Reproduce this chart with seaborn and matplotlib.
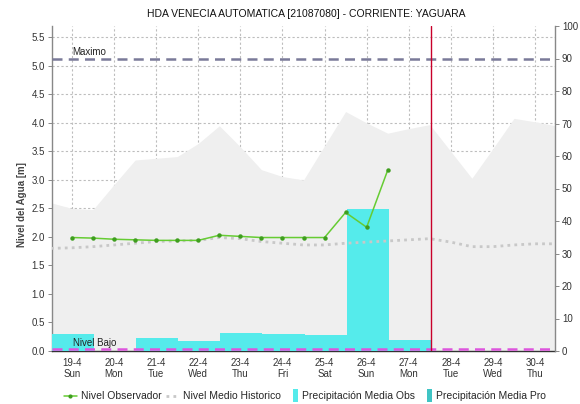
import numpy as np
import pandas as pd
import matplotlib
matplotlib.use("Agg")
import matplotlib.pyplot as plt
from matplotlib.lines import Line2D
from matplotlib.patches import Rectangle
from matplotlib.legend_handler import HandlerPatch
import seaborn as sns

# ---- data -------------------------------------------------------------
day_labels = ["19-4", "20-4", "21-4", "22-4", "23-4", "24-4",
              "25-4", "26-4", "27-4", "28-4", "29-4", "30-4"]
weekdays = ["Sun", "Mon", "Tue", "Wed", "Thu", "Fri",
            "Sat", "Sun", "Mon", "Tue", "Wed", "Thu"]

# observed water level (m), every 12 h from 19-4
obs_time = [0.0, 0.5, 1.0, 1.5, 2.0, 2.5, 3.0, 3.5,
            4.0, 4.5, 5.0, 5.5, 6.0, 6.5, 7.0, 7.5]
obs_level = [1.99, 1.98, 1.96, 1.95, 1.94, 1.94, 1.94, 2.03,
             2.01, 1.99, 1.99, 1.99, 1.99, 2.43, 2.17, 3.17]

# historic mean / maximum envelope (m), every 12 h
hist_time = [-0.5, 0.0, 0.5, 1.0, 1.5, 2.0, 2.5, 3.0, 3.5, 4.0, 4.5, 5.0,
             5.5, 6.0, 6.5, 7.0, 7.5, 8.0, 8.5, 9.0, 9.5, 10.0, 10.5, 11.0, 11.5]
hist_mean = [1.80, 1.81, 1.83, 1.86, 1.89, 1.92, 1.93, 1.94, 1.99, 1.97, 1.92, 1.89,
             1.86, 1.86, 1.89, 1.91, 1.93, 1.95, 1.97, 1.91, 1.83, 1.83, 1.86, 1.88, 1.88]
hist_max = [2.60, 2.50, 2.48, 2.92, 3.35, 3.38, 3.41, 3.64, 3.95, 3.58, 3.18, 3.06,
            3.00, 3.60, 4.20, 4.00, 3.82, 3.90, 3.97, 3.50, 3.03, 3.55, 4.08, 4.02, 3.95]

# daily observed precipitation (mm)
precip_day = [0, 1, 2, 3, 4, 5, 6, 7, 8]
precip_obs = [5.2, 0.0, 3.9, 3.1, 5.4, 5.2, 4.9, 43.7, 3.5]

nivel_maximo = 5.12
nivel_bajo = 0.04
now_time = 8.525

obs_df = pd.DataFrame({"t": obs_time, "nivel": obs_level})
hist_df = pd.DataFrame({"t": hist_time, "medio": hist_mean, "max": hist_max})

# ---- style ------------------------------------------------------------
sns.set_theme(style="white")
plt.rcParams["font.family"] = ["Liberation Sans", "DejaVu Sans"]

fig = plt.figure(figsize=(5.8, 4.04), dpi=100)
pos = [52 / 580, 1 - 351 / 404, (555 - 52) / 580, (351 - 26) / 404]

# background axis: historic envelope, grid and level axis
ax = fig.add_axes(pos)
ax.fill_between(hist_df["t"], hist_df["max"], 0, color="#efefef", lw=0)
ax.set_xlim(-0.475, 11.475)
ax.set_ylim(0, 5.7)
ax.set_yticks(np.arange(0, 5.51, 0.5))
ax.set_yticklabels([f"{v:.1f}" for v in np.arange(0, 5.51, 0.5)])
ax.set_xticks(range(len(day_labels)))
ax.set_xticklabels([f"{d}\n{w}" for d, w in zip(day_labels, weekdays)],
                   linespacing=1.15)
ax.grid(True, linestyle=(0, (2, 2)), color="#bdbdbd", lw=0.8)
ax.tick_params(axis="both", labelsize=7, labelcolor="#333333", color="#888888",
               length=3, width=0.7, pad=2)
ax.set_ylabel("Nivel del Agua [m]", fontsize=7, fontweight="bold", color="#444444")
ax.yaxis.set_label_coords(-0.05, 0.45)
for s in ["top", "right"]:
    ax.spines[s].set_visible(False)
ax.spines["left"].set_color("#888888")
ax.spines["left"].set_linewidth(1.0)
ax.spines["bottom"].set_color("#333333")
ax.spines["bottom"].set_linestyle((0, (1, 1)))
ax.spines["bottom"].set_linewidth(1.0)

# precipitation axis
ax2 = ax.twinx()
ax2.bar([d - 0.475 for d in precip_day], precip_obs, width=1.0, align="edge",
        color="#55ebeb", lw=0)
ax2.set_ylim(0, 100)
ax2.set_yticks(range(0, 101, 10))
ax2.tick_params(axis="y", labelsize=7, labelcolor="#333333", color="#888888",
                length=3, width=0.7, pad=2)
for s in ["top", "left", "bottom"]:
    ax2.spines[s].set_visible(False)
ax2.spines["right"].set_color("#888888")
ax2.spines["right"].set_linewidth(1.0)
ax2.grid(False)

# foreground axis: level series and thresholds
fg = fig.add_axes(pos, sharex=ax, sharey=ax)
fg.patch.set_visible(False)
sns.lineplot(data=hist_df, x="t", y="medio", ax=fg, color="#c8c8c8",
             linestyle=(0, (1, 1.5)), lw=2, legend=False)
sns.lineplot(data=obs_df, x="t", y="nivel", ax=fg, color="#66cc33", lw=1.1,
             marker="o", markersize=3.2, markeredgewidth=0,
             markerfacecolor="#3f9e1f", legend=False)
fg.axhline(nivel_maximo, color="#7a7a99", linestyle=(0, (4, 2.5)), lw=1.8)
fg.axhline(nivel_bajo, color="#dd55dd", linestyle=(0, (4, 2.5)), lw=1.8)
fg.axvline(now_time, color="#c8002a", lw=1.0)
fg.text(0.0, nivel_maximo + 0.04, "Maximo", fontsize=7, color="#222222", va="bottom")
fg.text(0.02, nivel_bajo + 0.005, "Nivel Bajo", fontsize=7, color="#222222", va="bottom")
fg.set_xlim(-0.475, 11.475)
fg.set_ylim(0, 5.7)
fg.axis("off")

ax.set_zorder(1)
ax2.set_zorder(2)
fg.set_zorder(3)

fig.text(0.528, 0.965, "HDA VENECIA AUTOMATICA [21087080] - CORRIENTE: YAGUARA",
         ha="center", va="center", fontsize=7.5, color="#111111")


def narrow_patch(legend, orig_handle, xdescent, ydescent, width, height, fontsize):
    return Rectangle((xdescent + width - 0.5 * fontsize, -ydescent - 0.25 * fontsize),
                     0.5 * fontsize, height + 0.5 * fontsize)


handles = [
    Line2D([], [], color="#66cc33", lw=1.1, marker="o", markersize=3,
           markerfacecolor="#3f9e1f", markeredgewidth=0),
    Line2D([], [], color="#c8c8c8", lw=2, linestyle=(0, (1, 1.5))),
    Rectangle((0, 0), 1, 1, color="#55ebeb", lw=0),
    Rectangle((0, 0), 1, 1, color="#3fc4c4", lw=0),
]
labels = ["Nivel Observador", "Nivel Medio Historico",
          "Precipitación Media Obs", "Precipitación Media Pro"]
fig.legend(handles, labels, loc="center", bbox_to_anchor=(0.526, 0.019), ncol=4,
           frameon=False, fontsize=7.5, handlelength=1.2, handletextpad=0.4,
           columnspacing=0.45, borderpad=0.2,
           handler_map={Rectangle: HandlerPatch(patch_func=narrow_patch)})

fig.savefig("out.png", dpi=100)
